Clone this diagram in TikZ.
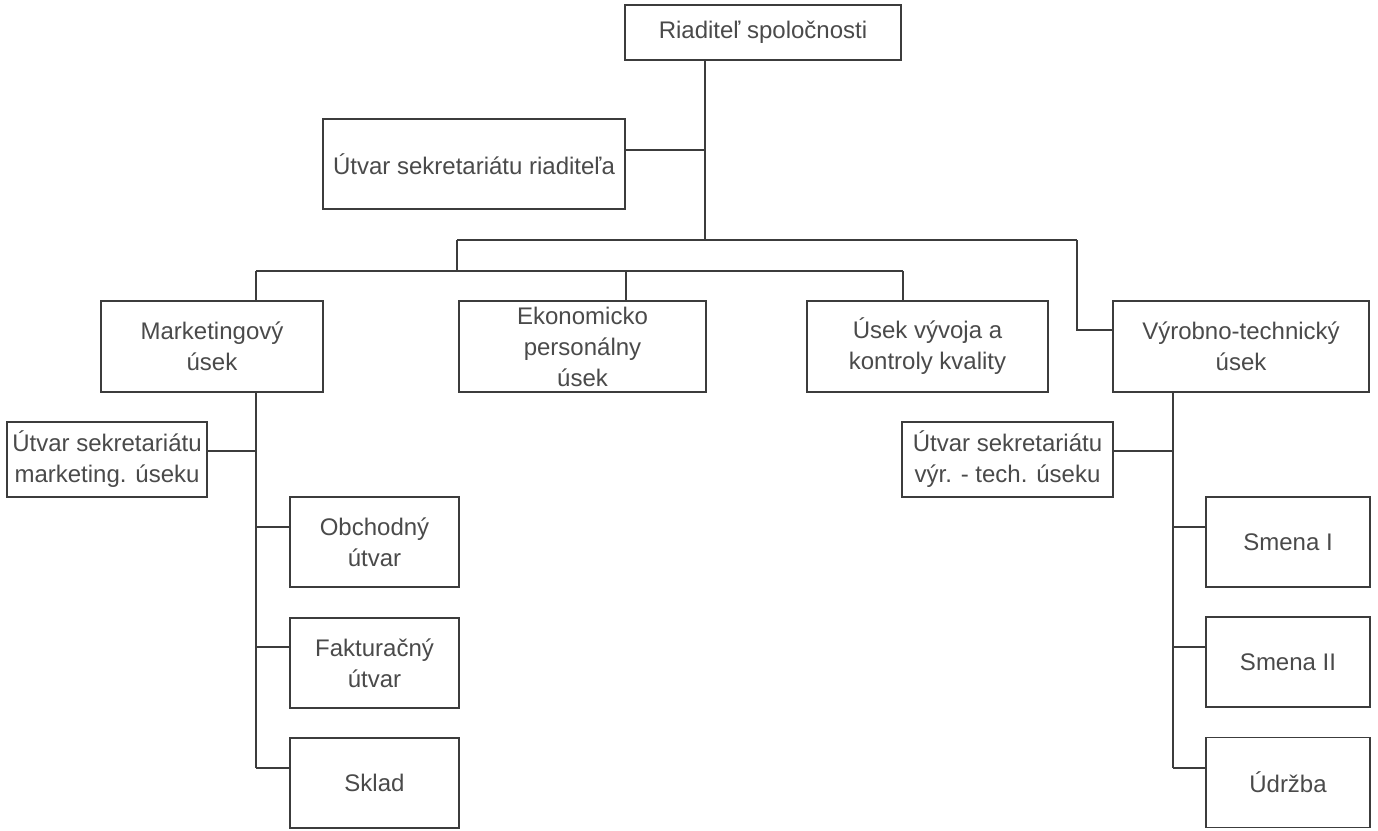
\documentclass[tikz,border=0pt]{standalone}
\usepackage{fontspec}
\setmainfont{Liberation Sans}
\definecolor{ln}{HTML}{3C3C3C}
\definecolor{tx}{HTML}{4A4A4A}
\begin{document}
\begin{tikzpicture}[x=1pt,y=-1pt,
  box/.style={draw=ln, line width=1.9pt, rectangle, inner sep=0pt, align=center, text=tx,
    font=\fontsize{24}{31}\selectfont},
  conn/.style={draw=ln, line width=1.9pt}]
\useasboundingbox[fill=white] (0,0) rectangle (1378,830);
% top
\node[box, minimum width=276pt, minimum height=55pt] (dir) at (763,32.5) {Riaditeľ spoločnosti};
\node[box, minimum width=302pt, minimum height=90pt] (sekr) at (474,164) {Útvar sekretariátu riaditeľa};
% level 2
\node[box, minimum width=222pt, minimum height=91pt] (mk) at (212,346.5) {Marketingový\\úsek};
\node[box, minimum width=247pt, minimum height=91pt] (ek) at (582.5,346.5) {Ekonomicko\\personálny\\úsek};
\node[box, minimum width=241pt, minimum height=91pt] (uv) at (927.5,346.5) {Úsek vývoja a\\kontroly kvality};
\node[box, minimum width=256pt, minimum height=91pt] (vt) at (1241,346.5) {Výrobno-technický\\úsek};
% marketing subunits
\node[box, minimum width=200pt, minimum height=75pt] (smk) at (107,459.5) {Útvar sekretariátu\\marketing. úseku};
\node[box, minimum width=169pt, minimum height=90pt] (ob) at (374.5,542) {Obchodný\\útvar};
\node[box, minimum width=169pt, minimum height=90pt] (fk) at (374.5,663) {Fakturačný\\útvar};
\node[box, minimum width=169pt, minimum height=90pt] (sk) at (374.5,783) {Sklad};
% production subunits
\node[box, minimum width=211pt, minimum height=75pt] (svt) at (1007.5,459.5) {Útvar sekretariátu\\výr. - tech. úseku};
\node[box, minimum width=164pt, minimum height=90pt] (s1) at (1288,542) {Smena I};
\node[box, minimum width=164pt, minimum height=90pt] (s2) at (1288,662) {Smena II};
\node[box, minimum width=164pt, minimum height=90pt] (ud) at (1288,782.5) {Údržba};
% junctions
\coordinate (j0) at (705,240);
\coordinate (js) at (705,150);
\coordinate (jl) at (457,240);
\coordinate (jr) at (1077,240);
\coordinate (jl2) at (457,271);
\coordinate (hA) at (256,271);
\coordinate (hE) at (626,271);
\coordinate (hB) at (903,271);
\coordinate (jv) at (1077,330);
\coordinate (m1) at (256,451);
\coordinate (m2) at (256,527);
\coordinate (m3) at (256,647);
\coordinate (m4) at (256,768);
\coordinate (v1) at (1173,451);
\coordinate (v2) at (1173,527);
\coordinate (v3) at (1173,647);
\coordinate (v4) at (1173,768);
% connectors
\draw[conn] (dir.south -| j0) -- (j0);
\draw[conn] (js -| sekr.east) -- (js);
\draw[conn] (jl) -- (jr);
\draw[conn] (jl) -- (jl2);
\draw[conn] (hA) -- (hB);
\draw[conn] (hA) -- (hA |- mk.north);
\draw[conn] (hE) -- (hE |- ek.north);
\draw[conn] (hB) -- (hB |- uv.north);
\draw[conn] (jr) -- (jv) -- (jv -| vt.west);
% marketing branch
\draw[conn] (m4 |- mk.south) -- (m4);
\draw[conn] (m1 -| smk.east) -- (m1);
\draw[conn] (m2) -- (m2 -| ob.west);
\draw[conn] (m3) -- (m3 -| fk.west);
\draw[conn] (m4) -- (m4 -| sk.west);
% production branch
\draw[conn] (v4 |- vt.south) -- (v4);
\draw[conn] (v1 -| svt.east) -- (v1);
\draw[conn] (v2) -- (v2 -| s1.west);
\draw[conn] (v3) -- (v3 -| s2.west);
\draw[conn] (v4) -- (v4 -| ud.west);
\end{tikzpicture}
\end{document}
